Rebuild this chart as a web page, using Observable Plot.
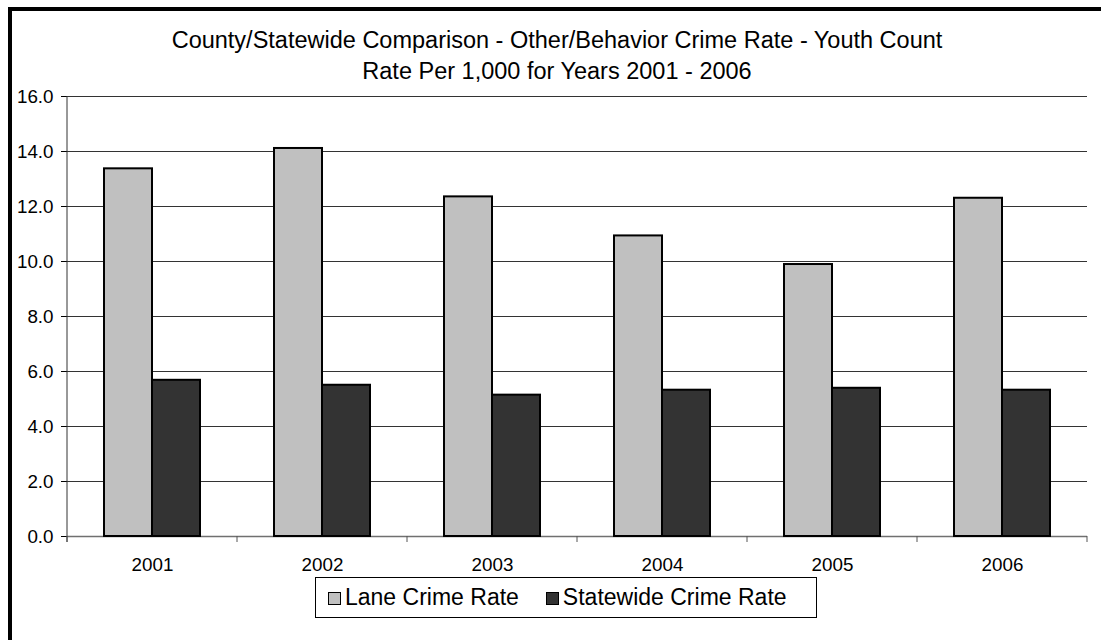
<!DOCTYPE html>
<html>
<head>
<meta charset="utf-8">
<script src="https://cdn.jsdelivr.net/npm/d3@7"></script>
<script src="https://cdn.jsdelivr.net/npm/@observablehq/plot@0.6"></script>
<style>
  html, body { margin: 0; padding: 0; background: #fff; overflow: hidden; }
  body { width: 1101px; height: 640px; position: relative; font-family: Arial, "Liberation Sans", sans-serif; }
  #frame { position: absolute; left: 8px; top: 7px; width: 1300px; height: 900px; border: 4px solid #000; box-sizing: border-box; }
  #title { position: absolute; left: 13px; width: 1088px; top: 25px; text-align: center; font-size: 23.5px; line-height: 31px; color: #000; }
  #chart { position: absolute; left: 0; top: 80px; }
  #legend { position: absolute; left: 315px; top: 577px; width: 502px; height: 41px; box-sizing: border-box; border: 1px solid #000;
            padding-left: 12px; display: flex; align-items: center; justify-content: flex-start; font-size: 23px; color: #000;
            white-space: nowrap; overflow: hidden; }
  .item { display: flex; align-items: center; flex-shrink: 0; white-space: nowrap; }
  .item + .item { margin-left: 27px; }
  .sw { width: 11px; height: 11px; border: 1.5px solid #000; margin-right: 4px; margin-top: 2px; flex-shrink: 0; }
</style>
</head>
<body>
<div id="frame"></div>
<div id="title">County/Statewide Comparison - Other/Behavior Crime Rate - Youth Count<br>Rate Per 1,000 for Years 2001 - 2006</div>
<div id="chart"></div>
<div id="legend"></div>
<script>
const years = ["2001", "2002", "2003", "2004", "2005", "2006"];
const seriesNames = ["Lane Crime Rate", "Statewide Crime Rate"];
const laneRate = [13.37, 14.11, 12.35, 10.93, 9.89, 12.30];
const statewideRate = [5.68, 5.50, 5.14, 5.32, 5.39, 5.32];
const seriesColors = ["#C0C0C0", "#333333"];
const yTicks = [0, 2, 4, 6, 8, 10, 12, 14, 16];

const data = [];
years.forEach((y, i) => {
  data.push({year: y, series: seriesNames[0], value: laneRate[i]});
  data.push({year: y, series: seriesNames[1], value: statewideRate[i]});
});

const plot = Plot.plot({
  width: 1101,
  height: 500,
  marginLeft: 66,
  marginRight: 13,
  marginTop: 16,
  marginBottom: 44,
  style: {fontFamily: "Arial, 'Liberation Sans', sans-serif", fontSize: "18.8px", color: "#000", background: "transparent"},
  fx: {domain: years, padding: 0, axis: "bottom", tickSize: 0, tickPadding: 21, label: null},
  x: {domain: seriesNames, paddingInner: 0, paddingOuter: 0.738, axis: null},
  y: {domain: [0, 16], ticks: yTicks, tickFormat: d => d.toFixed(1), tickSize: 6, tickPadding: 8, label: null},
  color: {domain: seriesNames, range: seriesColors},
  marks: [
    Plot.ruleY(yTicks.filter(d => d > 0), {stroke: "#333", strokeWidth: 1}),
    Plot.ruleY([0], {stroke: "#707070", strokeWidth: 1.5}),
    Plot.barY(data, {fx: "year", x: "series", y: "value", fill: "series", stroke: "#000", strokeWidth: 2})
  ]
});
document.getElementById("chart").appendChild(plot);

// axis line and category boundary ticks, placed with the plot's own scales
const svg = d3.select(plot.tagName.toLowerCase() === "svg" ? plot : plot.querySelector("svg"));
const ys = plot.scale("y"), fxs = plot.scale("fx");
const y0 = ys.apply(0), yTop = ys.apply(16);
const xLeft = fxs.apply(years[0]);
const bounds = years.map(y => fxs.apply(y)).concat([fxs.apply(years[years.length - 1]) + fxs.bandwidth]);
const g = svg.append("g");
g.append("line").attr("x1", xLeft).attr("x2", xLeft).attr("y1", yTop).attr("y2", y0 + 6)
  .attr("stroke", "#333").attr("stroke-width", 1);
g.selectAll(".bt").data(bounds).join("line")
  .attr("x1", d => d).attr("x2", d => d).attr("y1", y0).attr("y2", y0 + 6)
  .attr("stroke", "#555").attr("stroke-width", 1);

// legend
const legend = document.getElementById("legend");
seriesNames.forEach((name, i) => {
  const item = document.createElement("div");
  item.className = "item";
  const sw = document.createElement("div");
  sw.className = "sw";
  sw.style.background = seriesColors[i];
  const label = document.createElement("span");
  label.textContent = name;
  item.appendChild(sw);
  item.appendChild(label);
  legend.appendChild(item);
});
</script>
</body>
</html>
